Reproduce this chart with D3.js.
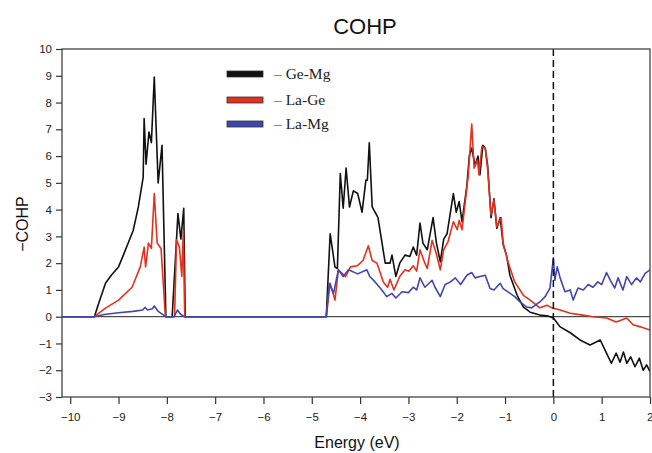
<!DOCTYPE html>
<html><head><meta charset="utf-8">
<script src="https://cdn.jsdelivr.net/npm/d3@7"></script>
<style>body{margin:0;background:#fff}svg{display:block}</style>
</head><body>
<script>
const xTicks = [-10,-9,-8,-7,-6,-5,-4,-3,-2,-1,0,1,2];
const yTicks = [-3,-2,-1,0,1,2,3,4,5,6,7,8,9,10];
const seriesNames = ["– Ge-Mg","– La-Ge","– La-Mg"];
const seriesColors = ["#111111","#e2311f","#4146ad"];

const geMg = [[-10.17,0],[-9.5,0],[-9.42,0.45],[-9.27,1.25],[-9.15,1.55],[-9.0,1.86],[-8.9,2.3],[-8.8,2.75],[-8.7,3.2],[-8.65,3.6],[-8.59,4.1],[-8.49,5.2],[-8.47,7.4],[-8.43,5.7],[-8.37,6.9],[-8.32,6.5],[-8.26,8.95],[-8.18,5.0],[-8.1,6.4],[-8.02,0],[-7.89,0],[-7.77,3.85],[-7.71,2.9],[-7.65,4.05],[-7.62,0],
[-4.7,0],[-4.62,3.1],[-4.52,1.85],[-4.47,1.8],[-4.41,5.35],[-4.35,4.05],[-4.29,5.55],[-4.22,4.1],[-4.14,4.7],[-4.05,4.6],[-3.96,3.9],[-3.88,5.1],[-3.85,5.1],[-3.81,6.5],[-3.75,4.1],[-3.63,3.7],[-3.48,2.0],[-3.38,2.0],[-3.34,2.3],[-3.26,1.5],[-3.18,2.0],[-3.07,2.3],[-2.97,2.25],[-2.9,2.6],[-2.83,2.3],[-2.76,3.5],[-2.7,2.75],[-2.61,2.5],[-2.49,3.7],[-2.42,2.75],[-2.34,2.05],[-2.27,2.9],[-2.2,3.1],[-2.07,4.6],[-2.01,3.9],[-1.95,4.3],[-1.89,3.55],[-1.79,4.9],[-1.74,6.0],[-1.69,6.3],[-1.62,5.65],[-1.56,6.0],[-1.52,5.3],[-1.46,6.4],[-1.41,6.3],[-1.36,5.65],[-1.29,3.7],[-1.23,4.4],[-1.17,3.3],[-1.1,3.7],[-1.04,2.7],[-0.97,2.3],[-0.9,1.55],[-0.75,0.8],[-0.62,0.36],[-0.48,0.17],[-0.28,0.06],[-0.1,0.02],[0.0,-0.05],[0.14,-0.38],[0.35,-0.6],[0.55,-0.87],[0.76,-1.06],[0.97,-0.87],[1.1,-1.36],[1.2,-1.74],[1.3,-1.36],[1.38,-1.7],[1.45,-1.32],[1.52,-1.74],[1.6,-1.5],[1.69,-1.87],[1.78,-1.55],[1.86,-2.0],[1.93,-1.8],[2.0,-2.05]];

const laGe = [[-10.17,0],[-9.5,0],[-9.27,0.32],[-9.0,0.62],[-8.72,1.1],[-8.55,1.86],[-8.47,2.6],[-8.44,1.86],[-8.38,2.75],[-8.32,2.55],[-8.26,4.6],[-8.2,2.75],[-8.12,2.55],[-8.03,0],[-7.84,0],[-7.8,2.87],[-7.74,2.6],[-7.69,1.5],[-7.66,3.2],[-7.63,0],
[-4.7,0],[-4.62,1.25],[-4.52,0.62],[-4.45,1.75],[-4.3,1.5],[-4.2,1.86],[-4.06,1.9],[-3.94,2.1],[-3.83,2.65],[-3.75,2.1],[-3.65,2.0],[-3.52,1.3],[-3.43,1.1],[-3.38,1.4],[-3.3,1.0],[-3.18,1.5],[-3.07,1.75],[-2.99,1.7],[-2.9,1.9],[-2.83,1.7],[-2.76,2.5],[-2.66,2.0],[-2.61,1.8],[-2.51,2.85],[-2.43,2.4],[-2.34,1.75],[-2.27,2.5],[-2.18,2.8],[-2.07,3.55],[-1.99,3.25],[-1.95,3.6],[-1.89,3.25],[-1.82,4.35],[-1.76,5.3],[-1.69,7.2],[-1.64,5.55],[-1.57,5.85],[-1.54,5.3],[-1.48,6.35],[-1.41,6.3],[-1.36,5.5],[-1.29,3.8],[-1.23,4.35],[-1.17,3.35],[-1.08,3.7],[-1.04,2.75],[-0.94,2.05],[-0.8,1.3],[-0.62,0.8],[-0.48,0.62],[-0.28,0.33],[-0.13,0.43],[-0.03,0.33],[0.14,0.25],[0.35,0.13],[0.61,0.06],[0.82,0],[1.1,-0.05],[1.3,-0.2],[1.52,-0.05],[1.65,-0.3],[1.8,-0.38],[2.0,-0.5]];

const laMg = [[-10.17,0],[-9.5,0],[-9.3,0.08],[-9.0,0.15],[-8.7,0.2],[-8.5,0.25],[-8.45,0.35],[-8.4,0.25],[-8.3,0.3],[-8.26,0.4],[-8.18,0.2],[-8.02,0],[-7.85,0],[-7.78,0.25],[-7.72,0.1],[-7.64,0],
[-4.7,0],[-4.64,1.25],[-4.55,0.87],[-4.45,1.75],[-4.35,1.5],[-4.24,1.75],[-4.05,1.6],[-3.86,1.75],[-3.8,1.5],[-3.69,1.3],[-3.55,1.0],[-3.45,0.75],[-3.34,0.87],[-3.26,0.7],[-3.13,0.93],[-3.0,0.9],[-2.9,1.1],[-2.83,1.0],[-2.76,1.45],[-2.66,1.1],[-2.51,1.36],[-2.45,1.1],[-2.34,0.75],[-2.24,1.2],[-2.13,1.3],[-2.03,1.45],[-1.92,1.2],[-1.79,1.55],[-1.69,1.65],[-1.62,1.45],[-1.52,1.5],[-1.41,1.55],[-1.31,1.05],[-1.23,1.0],[-1.1,1.25],[-1.04,1.05],[-0.94,0.93],[-0.8,0.75],[-0.69,0.55],[-0.55,0.36],[-0.45,0.33],[-0.28,0.55],[-0.17,0.75],[-0.07,1.07],[0.0,2.2],[0.03,1.36],[0.08,1.86],[0.14,1.45],[0.24,0.93],[0.35,1.0],[0.41,0.62],[0.51,1.07],[0.62,1.0],[0.72,1.2],[0.82,1.1],[0.92,1.3],[1.0,1.2],[1.1,1.65],[1.18,1.36],[1.27,1.07],[1.34,1.45],[1.44,1.0],[1.52,1.5],[1.62,1.2],[1.72,1.45],[1.8,1.3],[1.9,1.62],[2.0,1.75]];

const W = 652, H = 453;
const L = 62, R = 650, T = 49, B = 397;
const svg = d3.select("body").append("svg").attr("width", W).attr("height", H);
const x = d3.scaleLinear().domain([-10.17, 2]).range([L, R]);
const y = d3.scaleLinear().domain([-3, 10]).range([B, T]);
const fmt = d => d3.format("d")(d).replace("-", "\u2212");

svg.append("text").attr("x", 365).attr("y", 34).attr("text-anchor", "middle")
  .attr("font-family", "Liberation Sans, Arial, sans-serif").attr("font-size", 22).attr("fill", "#111").text("COHP");

svg.append("defs").append("clipPath").attr("id", "clip").append("rect")
  .attr("x", L).attr("y", T).attr("width", R - L).attr("height", B - T);

// axes
const xa = svg.append("g").attr("transform", `translate(0,${B})`)
  .call(d3.axisBottom(x).tickValues(xTicks).tickFormat(fmt).tickSize(7).tickSizeOuter(0));
const ya = svg.append("g").attr("transform", `translate(${L},0)`)
  .call(d3.axisLeft(y).tickValues(yTicks).tickFormat(fmt).tickSize(6).tickSizeOuter(0));
[xa, ya].forEach(a => {
  a.select(".domain").remove();
  a.selectAll("line").attr("stroke", "#333").attr("stroke-width", 1.2);
  a.selectAll("text").attr("font-family", "Liberation Sans, Arial, sans-serif").attr("font-size", 11.5).attr("fill", "#222");
});
xa.selectAll("text").attr("dy", "1.2em");
xa.selectAll(".tick").filter(d => d === 2).select("text").attr("text-anchor", "end").attr("dx", "3px");
ya.selectAll("text").attr("dx", "-1px");

// zero line
svg.append("line").attr("x1", L).attr("x2", R).attr("y1", y(0)).attr("y2", y(0))
  .attr("stroke", "#222").attr("stroke-width", 1);

const line = d3.line().x(d => x(d[0])).y(d => y(d[1]));
const g = svg.append("g").attr("clip-path", "url(#clip)");
[geMg, laGe, laMg].forEach((s, i) => {
  g.append("path").datum(s).attr("d", line).attr("fill", "none")
    .attr("stroke", seriesColors[i]).attr("stroke-width", 1.6).attr("stroke-linejoin", "round");
});

// dashed Fermi level
svg.append("line").attr("x1", x(0)).attr("x2", x(0)).attr("y1", T).attr("y2", B)
  .attr("stroke", "#111").attr("stroke-width", 1.5).attr("stroke-dasharray", "7,4");

// frame
svg.append("rect").attr("x", L).attr("y", T).attr("width", R - L).attr("height", B - T)
  .attr("fill", "none").attr("stroke", "#444").attr("stroke-width", 1.3);

// legend
const legY = [74, 100, 124];
seriesNames.forEach((n, i) => {
  svg.append("rect").attr("x", 227).attr("y", legY[i] - 3).attr("width", 36).attr("height", 6)
    .attr("fill", seriesColors[i]).attr("stroke", "#333").attr("stroke-width", 0.8);
  svg.append("text").attr("x", 274).attr("y", legY[i] + 5)
    .attr("font-family", "Liberation Serif, Times New Roman, serif").attr("font-size", 15.5).attr("fill", "#222").text(n);
});

// axis labels
svg.append("text").attr("x", 357).attr("y", 448).attr("text-anchor", "middle")
  .attr("font-family", "Liberation Sans, Arial, sans-serif").attr("font-size", 16).attr("fill", "#111").text("Energy (eV)");
svg.append("text").attr("transform", "translate(28,224) rotate(-90)").attr("text-anchor", "middle")
  .attr("font-family", "Liberation Sans, Arial, sans-serif").attr("font-size", 16).attr("fill", "#111").text("\u2212COHP");
</script>
</body></html>
